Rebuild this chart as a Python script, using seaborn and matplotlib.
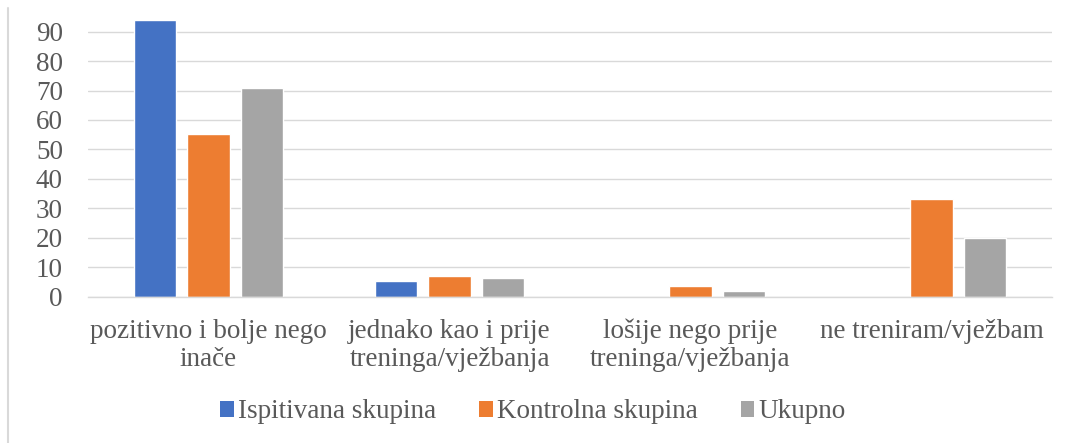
import matplotlib
matplotlib.use("Agg")
import matplotlib.pyplot as plt
import seaborn as sns
import pandas as pd
from matplotlib.patches import Patch
from matplotlib.lines import Line2D

categories = ["pozitivno i bolje nego\ninače", "jednako kao i prije\ntreninga/vježbanja",
              "lošije nego prije\ntreninga/vježbanja", "ne treniram/vježbam"]
series = ["Ispitivana skupina", "Kontrolna skupina", "Ukupno"]
ispitivana = [94.1, 5.1, 0, 0]
kontrolna = [55.3, 7.1, 3.4, 33.3]
ukupno = [70.9, 6.2, 1.9, 19.9]
colors = ["#4472C4", "#ED7D31", "#A5A5A5"]
yticks = [0, 10, 20, 30, 40, 50, 60, 70, 80, 90]

df = pd.DataFrame({
    "cat": categories * 3,
    "series": [series[0]] * 4 + [series[1]] * 4 + [series[2]] * 4,
    "value": ispitivana + kontrolna + ukupno,
})

sns.set_style("white")
plt.rcParams["font.family"] = ["Liberation Serif", "DejaVu Serif"]

fig = plt.figure(figsize=(10.66, 4.43), dpi=100)
ax = fig.add_axes([88 / 1066, (443 - 296.5) / 443, (1052 - 88) / 1066, (296.5 - 17) / 443])

sns.barplot(data=df, x="cat", y="value", hue="series", order=categories, hue_order=series,
            palette=colors, width=0.666, gap=0.2, ax=ax, legend=False, saturation=1)

ax.set_ylim(0, 95.0)
ax.set_xlim(-0.5, 3.5)
ax.set_yticks(yticks)
ax.yaxis.grid(True, color="#D9D9D9", linewidth=1)
ax.set_axisbelow(True)
for s in ["top", "right", "left"]:
    ax.spines[s].set_visible(False)
ax.spines["bottom"].set_color("#D9D9D9")
ax.spines["bottom"].set_linewidth(1)
ax.set_xlabel("")
ax.set_ylabel("")
ax.tick_params(axis="both", length=0, labelsize=19.5, labelcolor="#595959")
ax.tick_params(axis="y", pad=18)
ax.tick_params(axis="x", pad=16)
for lab in ax.get_xticklabels():
    lab.set_linespacing(1.15)

handles = [Patch(facecolor=c, edgecolor="none") for c in colors]
fig.legend(handles, series, loc="center", bbox_to_anchor=(0.5, (443 - 412) / 443), ncol=3,
           frameon=False, fontsize=19.5, labelcolor="#595959", handlelength=0.5, handleheight=0.5,
           handletextpad=0.15, columnspacing=1.6, borderpad=0)

fig.add_artist(Line2D([8 / 1066, 8 / 1066], [0, 1 - 8 / 443], transform=fig.transFigure,
                      color="#D9D9D9", linewidth=1.5))

fig.savefig("out.png", dpi=100)
